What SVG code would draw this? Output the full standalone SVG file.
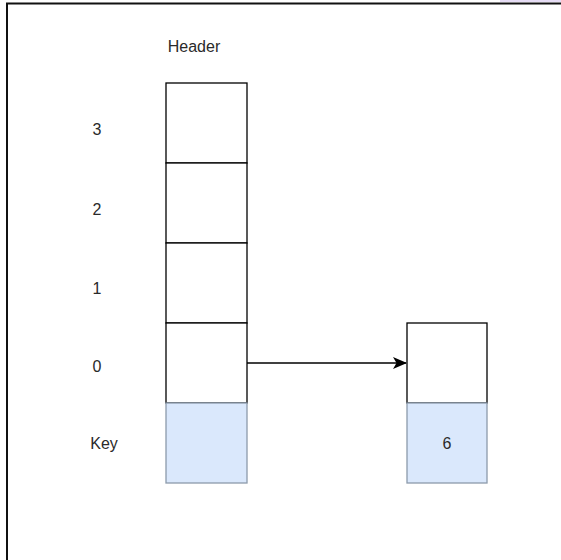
<svg xmlns="http://www.w3.org/2000/svg" width="561" height="560" viewBox="0 0 561 560">
<style>
.t{font-family:"Liberation Sans",Arial,sans-serif;font-size:16px;fill:#2a2a2a;text-anchor:middle;dominant-baseline:central}
.w{fill:#fff;stroke:#000;stroke-width:1.3}
.k{fill:#dae8fc;stroke:#8c9aab;stroke-width:1.3}
</style>
<defs>
<marker id="ah" viewBox="0 0 14 12" refX="13" refY="6" markerWidth="14" markerHeight="12" markerUnits="userSpaceOnUse" orient="auto">
<path d="M0,0 L14,6 L0,12 L3.5,6 Z" fill="#000"/>
</marker>
</defs>
<rect x="0" y="0" width="561" height="560" fill="#fff"/>
<rect x="500" y="0" width="61" height="2" fill="#e6dcf5"/>
<path d="M7,560 V3.5 H561" fill="none" stroke="#111" stroke-width="2"/>
<g id="labels">
<text class="t" x="194" y="46">Header</text>
<text class="t" x="97" y="129">3</text>
<text class="t" x="97" y="209">2</text>
<text class="t" x="97" y="288">1</text>
<text class="t" x="97" y="366">0</text>
<text class="t" x="104" y="443">Key</text>
</g>
<g id="header-array">
<rect class="w" x="166" y="83" width="81" height="80"/>
<rect class="w" x="166" y="163" width="81" height="80"/>
<rect class="w" x="166" y="243" width="81" height="80"/>
<rect class="w" x="166" y="323" width="81" height="80"/>
<rect class="k" x="166" y="403" width="81" height="80"/>
</g>
<g id="node">
<rect class="w" x="407" y="323" width="80" height="80"/>
<rect class="k" x="407" y="403" width="80" height="80"/>
<text class="t" x="447" y="443">6</text>
</g>
<g id="connectors">
<path d="M247,363 H406" fill="none" stroke="#000" stroke-width="1.3" marker-end="url(#ah)"/>
</g>
</svg>
